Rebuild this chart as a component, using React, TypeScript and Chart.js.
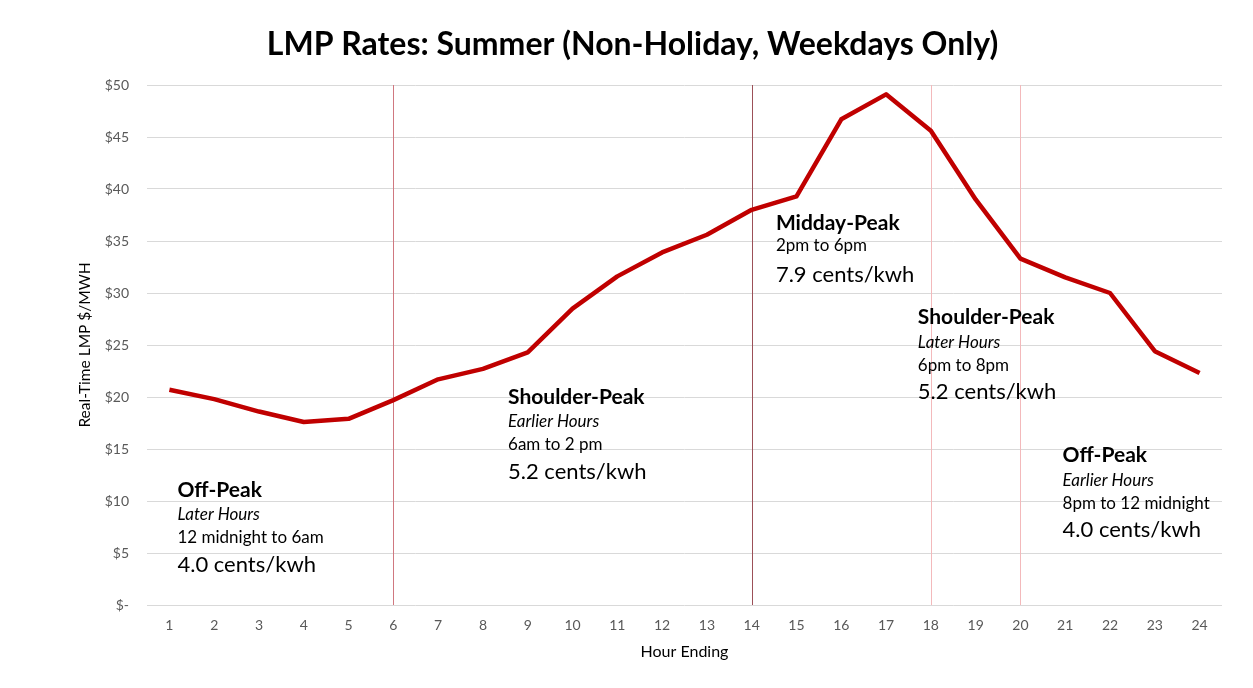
import React, { useEffect, useRef } from "react";
import { Chart, registerables } from "chart.js";

Chart.register(...registerables);

const hours: string[] = ["1","2","3","4","5","6","7","8","9","10","11","12","13","14","15","16","17","18","19","20","21","22","23","24"];
const lmp: number[] = [20.7, 19.8, 18.6, 17.6, 17.9, 19.7, 21.7, 22.7, 24.3, 28.5, 31.6, 33.9, 35.6, 38.0, 39.3, 46.7, 49.1, 45.6, 39.0, 33.3, 31.5, 30.0, 24.4, 22.3];
const yTicks: number[] = [0, 5, 10, 15, 20, 25, 30, 35, 40, 45, 50];

const chartTitle = "LMP Rates: Summer (Non-Holiday, Weekdays Only)";

// period boundary markers (hour ending) and colours
const markerHours: string[] = ["6", "14", "18", "20"];
const markerColors: string[] = ["#d07880", "#9c5058", "#f3b9bb", "#f3b9bb"];

// annotation blocks: anchor in data space (category index, $ value)
const blockX: number[] = [0.18, 7.56, 13.54, 16.71, 19.94];
const blockY: number[] = [11.06, 20.0, 36.73, 27.69, 14.42];
const blockTitles: string[] = ["Off-Peak", "Shoulder-Peak", "Midday-Peak", "Shoulder-Peak", "Off-Peak"];
const blockSubtitles: string[] = ["Later Hours", "Earlier Hours", "", "Later Hours", "Earlier Hours"];
const blockTimes: string[] = ["12 midnight to 6am", "6am to 2 pm", "2pm to 6pm", "6pm to 8pm", "8pm to 12 midnight"];
const blockRates: string[] = ["4.0 cents/kwh", "5.2 cents/kwh", "7.9 cents/kwh", "5.2 cents/kwh", "4.0 cents/kwh"];

const FONT = "Lato, 'Open Sans', sans-serif";

export default function App() {
  const ref = useRef<HTMLCanvasElement | null>(null);

  useEffect(() => {
    if (!ref.current) return;

    const frame = {
      id: "frame",
      beforeDraw(chart: any) {
        const ctx = chart.ctx;
        ctx.save();
        ctx.strokeStyle = "#d9d9d9";
        ctx.lineWidth = 1;
        ctx.beginPath();
        ctx.moveTo(7.5, chart.height);
        ctx.lineTo(7.5, 7.5);
        ctx.lineTo(chart.width, 7.5);
        ctx.stroke();
        ctx.fillStyle = "#000000";
        ctx.font = `bold 32px ${FONT}`;
        ctx.textAlign = "center";
        ctx.textBaseline = "middle";
        ctx.fillText(chartTitle, chart.width / 2 + 6, 45);
        ctx.restore();
      },
    };

    const markers = {
      id: "markers",
      beforeDatasetsDraw(chart: any) {
        const ctx = chart.ctx;
        const x = chart.scales.x;
        const a = chart.chartArea;
        ctx.save();
        ctx.lineWidth = 1;
        markerHours.forEach((h, i) => {
          const px = Math.round(x.getPixelForValue(hours.indexOf(h))) + 0.5;
          ctx.strokeStyle = markerColors[i];
          ctx.beginPath();
          ctx.moveTo(px, a.top);
          ctx.lineTo(px, a.bottom);
          ctx.stroke();
        });
        ctx.restore();
      },
    };

    const notes = {
      id: "notes",
      afterDatasetsDraw(chart: any) {
        const ctx = chart.ctx;
        const xs = chart.scales.x;
        const ys = chart.scales.y;
        ctx.save();
        ctx.fillStyle = "#000000";
        ctx.textAlign = "left";
        ctx.textBaseline = "middle";
        blockTitles.forEach((t, i) => {
          const px = xs.getPixelForValue(blockX[i]);
          let py = ys.getPixelForValue(blockY[i]);
          ctx.font = `bold 21px ${FONT}`;
          ctx.fillText(t, px, py);
          if (blockSubtitles[i]) {
            py += 25;
            ctx.font = `italic 17px ${FONT}`;
            ctx.fillText(blockSubtitles[i], px, py);
          }
          py += 23;
          ctx.font = `17px ${FONT}`;
          ctx.fillText(blockTimes[i], px, py);
          py += blockSubtitles[i] ? 27 : 29;
          ctx.font = `22px ${FONT}`;
          ctx.fillText(blockRates[i], px, py);
        });
        ctx.restore();
      },
    };

    const chart = new Chart(ref.current, {
      type: "line",
      data: {
        labels: hours,
        datasets: [
          {
            label: "LMP",
            data: lmp,
            borderColor: "#c00000",
            backgroundColor: "#c00000",
            borderWidth: 4.5,
            pointRadius: 0,
            tension: 0,
            borderJoinStyle: "round",
            borderCapStyle: "butt",
          },
        ],
      },
      options: {
        responsive: false,
        animation: false,
        layout: { padding: { left: 0, right: 31, top: 85, bottom: 0 } },
        plugins: {
          legend: { display: false },
          tooltip: { enabled: false },
          title: { display: false },
        },
        scales: {
          x: {
            offset: true,
            grid: { display: false, drawTicks: false },
            border: { display: false },
            ticks: { color: "#595959", font: { family: FONT, size: 14 }, padding: 12 },
            title: {
              display: true,
              text: "Hour Ending",
              color: "#000000",
              font: { family: FONT, size: 16 },
              padding: { top: 0, bottom: 27 },
            },
            afterFit(scale: any) {
              scale.height = 83;
            },
          },
          y: {
            min: 0,
            max: 50,
            afterBuildTicks(scale: any) {
              scale.ticks = yTicks.map((v) => ({ value: v }));
            },
            grid: { color: "#d9d9d9", lineWidth: 1, drawTicks: false },
            border: { display: false },
            ticks: {
              color: "#595959",
              font: { family: FONT, size: 14 },
              padding: 18,
              callback: (v: any) => (Number(v) === 0 ? "$-" : "$" + v),
            },
            title: {
              display: true,
              text: "Real-Time LMP $/MWH",
              color: "#000000",
              font: { family: FONT, size: 15.5 },
              padding: { top: 76, bottom: 0 },
            },
            afterFit(scale: any) {
              scale.width = 147;
            },
          },
        },
      },
      plugins: [frame, markers, notes],
    });

    return () => chart.destroy();
  }, []);

  return (
    <div style={{ marginLeft: -8, marginTop: -8, width: 1253, height: 688, overflow: "hidden" }}>
      <canvas ref={ref} width={1253} height={688} style={{ display: "block" }} />
    </div>
  );
}
